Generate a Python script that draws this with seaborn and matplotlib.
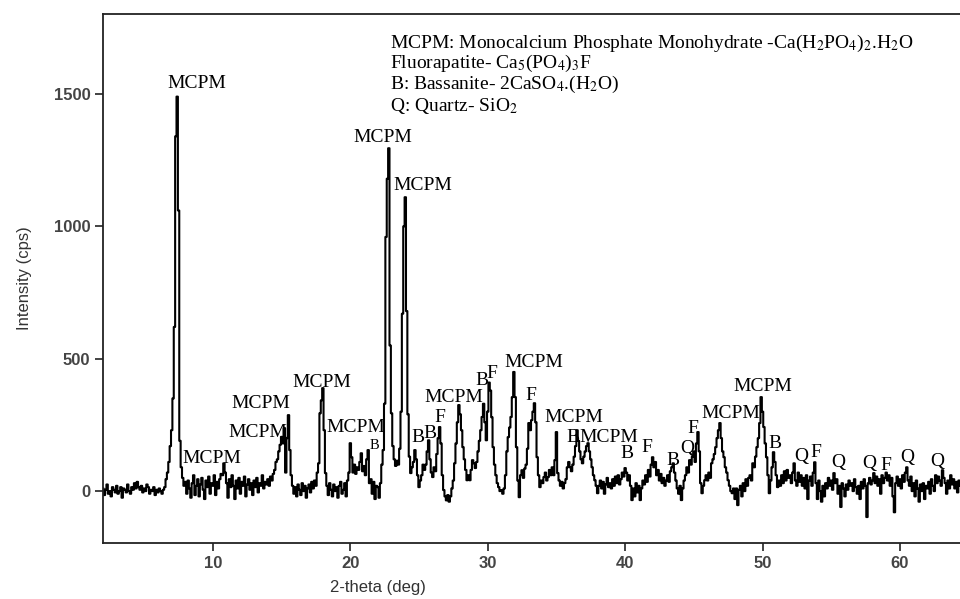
# XRD pattern of the MCPM sample, redrawn with seaborn
import numpy as np
import pandas as pd
import matplotlib
matplotlib.use("Agg")
import matplotlib.pyplot as plt
import seaborn as sns

# scan starts at 2 deg and steps 0.1 deg; intensity (cps)
scan_start = 2.0
scan_step = 0.1
intensity = [
    # 2
    10, -15, 5, 25, -10, 0, -20, 15, 5, -5,
    # 3
    20, -10, 0, 15, -25, 10, 5, -5, 25, 0,
    # 4
    -10, 15, 5, 30, 10, 35, 15, 5, 20, -5,
    # 5
    10, 0, 25, 15, -10, 5, 0, 15, -15, 5,
    # 6
    -5, 10, 0, -10, 5, 15, 45, 70, 110, 170,
    # 7
    230, 350, 620, 1340, 1490, 1060, 190, 90, 50, 20,
    # 8
    35, -10, 40, 10, -25, 30, 60, -15, 20, 45,
    # 9
    -20, 25, 50, 5, -30, 40, 15, 55, -10, 30,
    # 10
    20, 60, -15, 35, 10, 45, 65, 60, 105, 70,
    # 11
    30, -25, 45, 15, 60, 20, -30, 40, 10, 50,
    # 12
    -10, 35, 20, 55, -20, 25, 45, 5, 30, -15,
    # 13
    40, 15, 50, -5, 30, 20, 60, 10, 35, 25,
    # 14
    45, 20, 55, 40, 65, 80, 110, 120, 150, 175,
    # 15
    205, 180, 238, 70, 200, 287, 155, 60, 20, -10,
    # 16
    15, -20, 25, 5, -15, 30, 0, 20, -25, 10,
    # 17
    25, -5, 35, 10, 40, 20, 70, 105, 294, 343,
    # 18
    389, 230, 68, 20, -15, 30, 5, -20, 25, 0,
    # 19
    15, -25, 20, 35, -10, 5, 30, -20, 40, 70,
    # 20
    181, 128, 70, 100, 65, 90, 80, 110, 143, 75,
    # 21
    95, 60, 120, 155, 30, 45, -10, 35, -30, 20,
    # 22
    15, -25, 30, 100, 155, 330, 960, 1180, 1295, 550,
    # 23
    294, 170, 120, 95, 115, 100, 160, 300, 670, 1000,
    # 24
    1110, 680, 290, 130, 68, 90, 110, 155, 120, 60,
    # 25
    15, 40, 60, 100, 80, 100, 150, 192, 120, 70,
    # 26
    53, 90, 75, 140, 200, 242, 180, 60, 4, -20,
    # 27
    -35, -15, -40, -20, 10, 40, 105, 180, 260, 325,
    # 28
    290, 230, 166, 120, 80, 41, 60, 41, 80, 117,
    # 29
    105, 87, 110, 150, 190, 230, 280, 330, 260, 192,
    # 30
    300, 410, 380, 279, 166, 100, 60, 30, 15, 0,
    # 31
    4, -10, 10, 60, 150, 204, 240, 280, 355, 450,
    # 32
    355, 166, 40, -23, 60, 79, 50, 85, 100, 160,
    # 33
    257, 230, 268, 300, 332, 260, 128, 60, 15, 40,
    # 34
    30, 53, 70, 40, 53, 80, 60, 90, 60, 117,
    # 35
    223, 68, 40, 20, 35, 10, 30, 45, 90, 110,
    # 36
    90, 75, 100, 130, 170, 230, 190, 150, 120, 105,
    # 37
    130, 150, 170, 181, 150, 120, 90, 60, 41, 20,
    # 38
    -8, 20, 40, 10, 35, -10, 25, 50, 15, 30,
    # 39
    10, 45, 20, 55, 30, 60, 25, 45, 70, 55,
    # 40
    87, 70, 40, 60, 20, -34, 10, -20, 30, -5,
    # 41
    20, -34, 10, 40, 25, 60, 35, 80, 55, 100,
    # 42
    128, 90, 110, 60, 80, 40, 65, 30, 50, 20,
    # 43
    40, 60, 35, 75, 90, 105, 70, 40, 10, -10,
    # 44
    20, -34, 10, 40, 60, 90, 70, 117, 100, 130,
    # 45
    150, 110, 180, 223, 150, 30, -8, 20, 41, 60,
    # 46
    40, 70, 50, 105, 120, 140, 166, 200, 230, 257,
    # 47
    200, 150, 128, 90, 70, 41, 20, 0, -8, 10,
    # 48
    -30, 10, -53, 5, 20, -20, 30, 0, 45, 20,
    # 49
    50, 60, 40, 105, 90, 130, 166, 200, 257, 355,
    # 50
    300, 242, 180, 128, 60, -8, 40, 90, 147, 110,
    # 51
    60, 15, 40, 20, 60, 30, 75, 40, 80, 50,
    # 52
    60, 30, 70, 105, 40, 20, 70, 35, 60, 20,
    # 53
    50, 10, 60, -30, 40, 55, 20, 70, 109, 30,
    # 54
    -30, 40, 0, -40, 20, -20, 30, 10, 50, 20,
    # 55
    40, 5, 68, 30, 45, -10, 20, -60, 30, 10,
    # 56
    -20, 25, 5, 40, 20, 30, 0, 45, 15, -10,
    # 57
    20, -30, 35, 10, 45, 20, -98, 30, 50, 25,
    # 58
    40, 68, 30, 55, 20, 45, -10, 60, 30, 50,
    # 59
    70, 40, 60, 20, 50, -20, -80, 30, 55, 20,
    # 60
    45, 10, 60, 35, 70, 90, 40, 20, 55, 0,
    # 61
    30, -20, 40, 10, -40, 25, 0, 30, -30, 20,
    # 62
    10, 35, -10, 45, 20, 0, 60, 30, 55, 40,
    # 63
    20, 79, 50, 30, -10, 40, 10, 60, 25, 45,
    # 64
    10, 35, -5, 40, 20,
]

# phase labels put on the peaks
peak_names = ["MCPM", "MCPM", "MCPM", "MCPM", "MCPM", "MCPM", "B",
              "MCPM", "MCPM", "B", "B", "F", "MCPM", "B", "F",
              "MCPM", "F", "MCPM", "B", "MCPM", "B", "F", "B", "Q", "F",
              "MCPM", "MCPM", "B", "Q", "F", "Q", "Q", "F", "Q", "Q"]
peak_label_theta = [8.84, 9.93, 13.27, 13.5, 17.93, 20.4, 21.78,
                    22.4, 25.27, 24.9, 25.78, 26.5, 27.5, 29.56, 30.3,
                    33.35, 33.1, 36.3, 36.2, 38.8, 40.1, 41.56, 43.45, 44.5, 44.9,
                    47.67, 50.0, 50.87, 52.84, 53.9, 55.5, 57.8, 59.0, 60.55, 62.7]
peak_label_cps = [1540, 125, 223, 332, 411, 242, 174,
                  1336, 1155, 204, 219, 279, 355, 419, 445,
                  487, 362, 279, 204, 204, 143, 166, 117, 162, 238,
                  294, 396, 181, 132, 147, 109, 105, 98, 128, 113]

legend_lines = [
    "MCPM: Monocalcium Phosphate Monohydrate -Ca(H$_2$PO$_4$)$_2$.H$_2$O",
    "Fluorapatite- Ca$_5$(PO$_4$)$_3$F",
    "B: Bassanite- 2CaSO$_4$.(H$_2$O)",
    "Q: Quartz- SiO$_2$",
]

x_ticks = [10, 20, 30, 40, 50, 60]
y_ticks = [0, 500, 1000, 1500]

# build the table seaborn wants
two_theta = np.round(scan_start + scan_step * np.arange(len(intensity)), 1)
df = pd.DataFrame({"two_theta": two_theta, "cps": intensity})

sns.set_style("ticks")
plt.rcParams["mathtext.fontset"] = "stix"

fig = plt.figure(figsize=(9.6, 5.99), dpi=100)
ax = fig.add_axes([103 / 960, 1 - 543 / 599, 857 / 960, 529 / 599])

sns.lineplot(data=df, x="two_theta", y="cps", ax=ax, color="black",
             linewidth=1.5, drawstyle="steps-mid", estimator=None)

ax.set_xlim(2.0, 64.37)
ax.set_ylim(-196, 1802)
ax.set_xticks(x_ticks)
ax.set_yticks(y_ticks)

# tick labels look like a heavy sans in the original
for lab in ax.get_xticklabels() + ax.get_yticklabels():
    lab.set_family("Liberation Sans")
    lab.set_fontweight("bold")
    lab.set_color("#444444")
    lab.set_fontsize(12)
ax.tick_params(direction="out", length=6, width=1.2, color="#222222", pad=3)

for side in ["left", "bottom", "top"]:
    ax.spines[side].set_linewidth(1.3)
    ax.spines[side].set_color("#222222")
ax.spines["right"].set_visible(False)

ax.set_ylabel("Intensity (cps)", family="Liberation Sans", fontsize=12,
              color="#333333")
ax.set_xlabel("2-theta (deg)", family="Liberation Sans", fontsize=12,
              color="#333333")
ax.yaxis.set_label_coords(-0.083, 0.5)
ax.xaxis.set_label_coords(0.321, -0.07)

# phase labels
for name, th, c in zip(peak_names, peak_label_theta, peak_label_cps):
    size = 10.5 if (name == "B" and th < 22) else 14
    ax.text(th, c, name, ha="center", va="center", family="Liberation Serif",
            fontsize=size, color="black")

# key in the top right
key_y = [0.936, 0.898, 0.858, 0.816]
for line, yy in zip(legend_lines, key_y):
    ax.text(0.335, yy, line, transform=ax.transAxes, ha="left", va="baseline",
            family="Liberation Serif", fontsize=14, color="black")

plt.savefig("out.png", dpi=100)
